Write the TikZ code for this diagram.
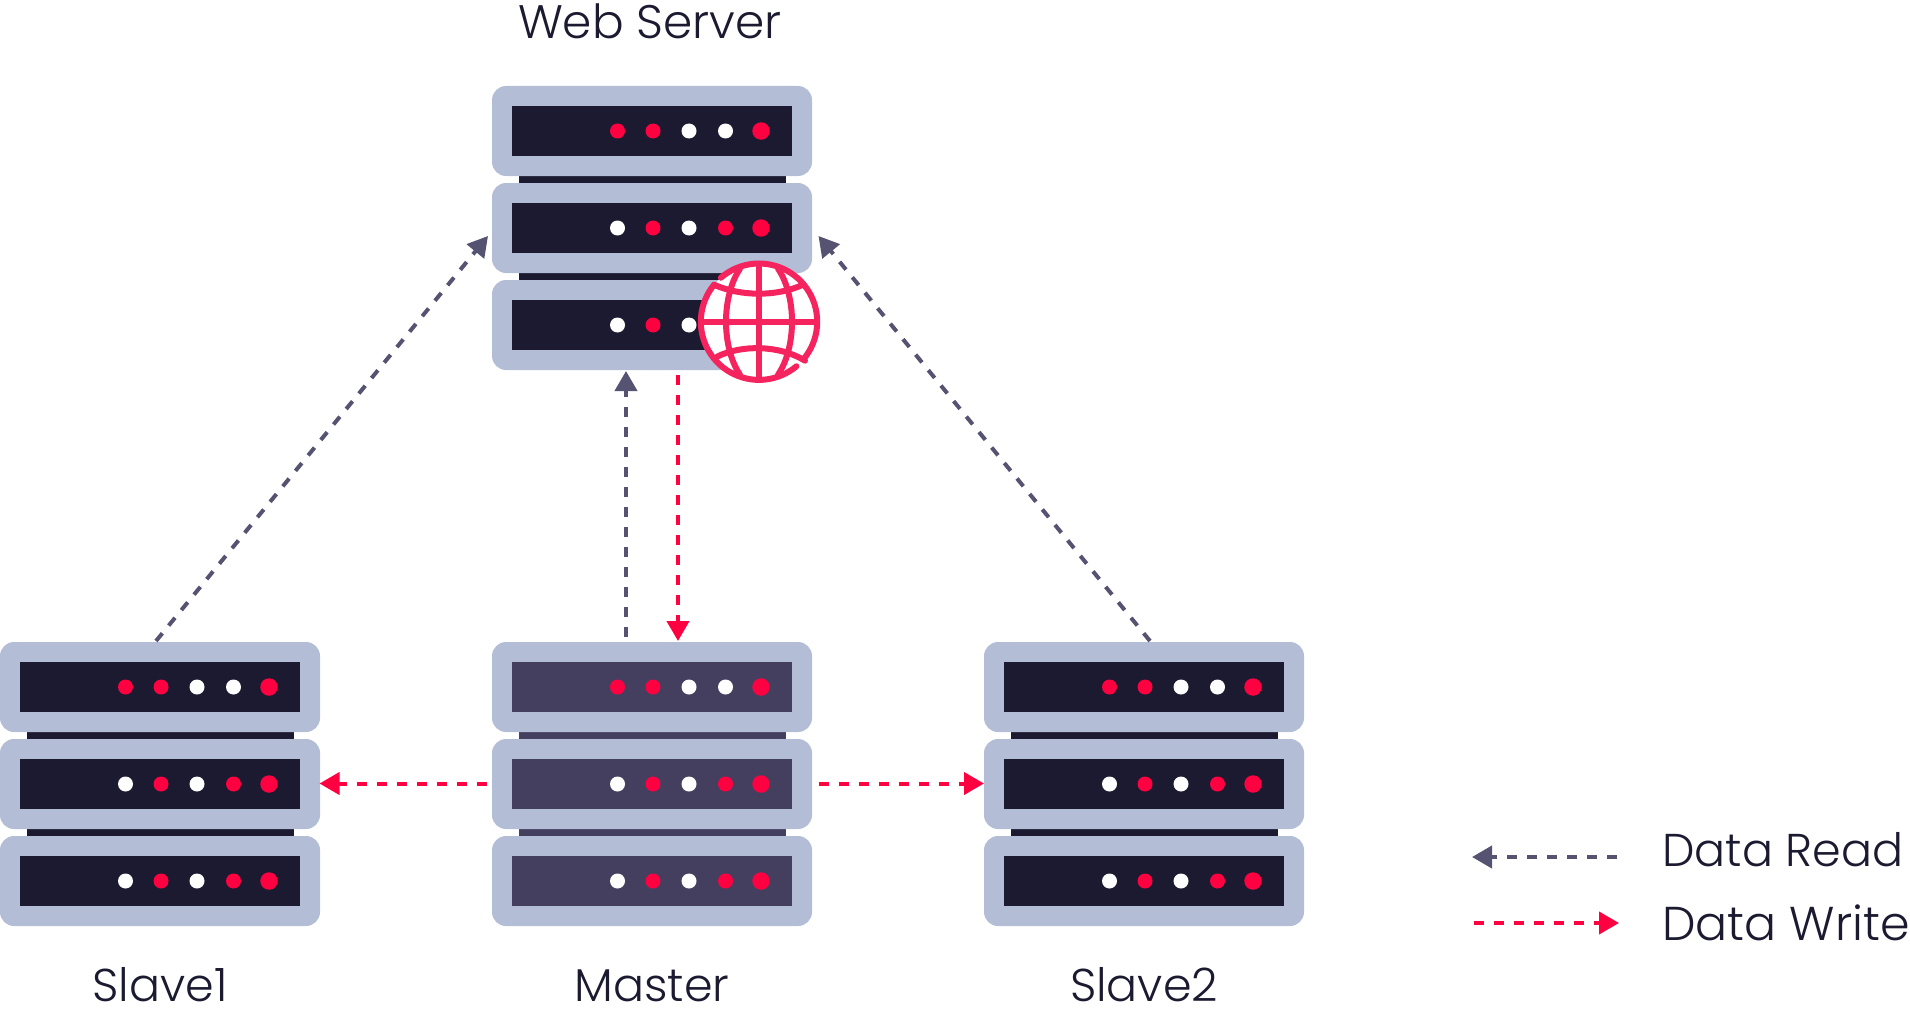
\documentclass[tikz,border=0pt]{standalone}
\usepackage{fontspec}
\setmainfont{Poppins}[UprightFont=* Light]
\usetikzlibrary{arrows.meta,calc}
\definecolor{inkdark}{HTML}{1B1A30}
\definecolor{inkmaster}{HTML}{453F5F}
\definecolor{framegrey}{HTML}{B3BED6}
\definecolor{ledred}{HTML}{FF0040}
\definecolor{readgrey}{HTML}{565372}
\definecolor{globered}{HTML}{F5245F}
\tikzset{
  x=1pt,y=-1pt,
  rowframe/.style={fill=framegrey,draw=none,rounded corners=14pt,minimum width=320pt,minimum height=90pt,inner sep=0pt,outer sep=0pt},
  rowpanel/.style={draw=none,minimum width=280pt,minimum height=50pt,inner sep=0pt,outer sep=0pt},
  rowlink/.style={draw=none,minimum width=267pt,minimum height=7pt,inner sep=0pt,outer sep=0pt},
  led/.style={circle,draw=none,minimum size=15pt,inner sep=0pt,outer sep=0pt},
  bigled/.style={led,minimum size=17.5pt},
  readflow/.style={readgrey,line width=4pt,dash pattern=on 10pt off 10pt,-{Triangle[length=20pt,width=22pt]}},
  writeflow/.style={ledred,line width=4pt,dash pattern=on 10pt off 10pt,-{Triangle[length=20pt,width=22pt]}},
  caption/.style={font=\fontsize{46}{46}\selectfont,text=inkdark,inner sep=0pt,anchor=base},
  legendtext/.style={caption,anchor=base west},
  globeline/.style={globered,line width=6pt,line cap=round,line join=round}
}
% One rack row: frame, panel, and the first three status lights
\newcommand{\rackrow}[7]{% name, top y, centre x, panel colour, led1, led2, led3
  \node[rowframe] (#1) at (#3,#2+45) {};
  \node[rowpanel,fill=#4] (#1-panel) at (#3,#2+45) {};
  \node[led,fill=#5] (#1-a) at (#3-34.5,#2+45) {};
  \node[led,fill=#6] (#1-b) at (#3+1,#2+45) {};
  \node[led,fill=#7] (#1-c) at (#3+37,#2+45) {};
}
\newcommand{\racklights}[4]{% name, centre x, top y, led4 colour
  \node[led,fill=#4] (#1-d) at (#2+73.5,#3+45) {};
  \node[bigled,fill=ledred] (#1-e) at (#2+109,#3+45) {};
}
% Three-row rack with its links
\newcommand{\rack}[4]{% name, centre x, top y, panel colour
  \node[rowlink,fill=#4] (#1-link1) at (#2+.5,#3+93.5) {};
  \node[rowlink,fill=#4] (#1-link2) at (#2+.5,#3+190.5) {};
  \rackrow{#1-r1}{#3}{#2}{#4}{ledred}{ledred}{white}
  \racklights{#1-r1}{#2}{#3}{white}
  \rackrow{#1-r2}{#3+97}{#2}{#4}{white}{ledred}{white}
  \racklights{#1-r2}{#2}{#3+97}{ledred}
  \rackrow{#1-r3}{#3+194}{#2}{#4}{white}{ledred}{white}
  \racklights{#1-r3}{#2}{#3+194}{ledred}
}
\begin{document}
\begin{tikzpicture}
\useasboundingbox (0,0) rectangle (1910,1014);

\rack{web}{652}{86}{inkdark}
\rack{master}{652}{642}{inkmaster}
\rack{slaveone}{160}{642}{inkdark}
\rack{slavetwo}{1144}{642}{inkdark}

% The globe badge replaces the right end of the web server's lowest row
\fill[white] (759,280) rectangle (814,371);
\node[circle,fill=white,draw=none,minimum size=116pt,inner sep=0pt] (globe) at (759,321.7) {};
\begin{scope}[shift={(759,321.7)}]
  % outer ring, in two strokes that leave small gaps
  \draw[globeline] plot[smooth,samples=40,domain=-131:40,variable=\a] ({58.2*cos(\a)},{58.2*sin(\a)});
  \draw[globeline] plot[smooth,samples=40,domain=-140.6:-310,variable=\a] ({58.2*cos(\a)},{58.2*sin(\a)});
  % parallels
  \draw[globeline] (-45,-37) .. controls (-18,-25) and (18,-25) .. (44,-37);
  \draw[globeline] (-42,35) .. controls (-18,23) and (20,23) .. (46,39);
  \draw[globeline] (-58,0) -- (58,0);
  % meridians
  \draw[globeline] (0,-58) -- (0,58);
  \draw[globeline] (-19,-53) .. controls (-28,-40) and (-33,-20) .. (-33,0) .. controls (-33,20) and (-28,40) .. (-19,53);
  \draw[globeline] (19,-53) .. controls (28,-40) and (33,-20) .. (33,0) .. controls (33,20) and (28,40) .. (19,53);
\end{scope}

% Data flow connectors
\coordinate (webReadIn) at ($(web-r3.south)+(-26,1)$);
\coordinate (masterReadOut) at ($(master-r1.north)+(-26,-5)$);
\coordinate (webWriteOut) at ($(web-r3.south)+(26,5)$);
\coordinate (masterWriteIn) at ($(master-r1.north)+(26,-1)$);
\coordinate (slaveoneOut) at ($(slaveone-r1.north)+(-4,-1)$);
\coordinate (webLeftIn) at (488,236);
\coordinate (slavetwoOut) at ($(slavetwo-r1.north)+(6,-1)$);
\coordinate (webRightIn) at (818.5,236);
\coordinate (masterLeftOut) at (487,783.5);
\coordinate (slaveoneIn) at (319.5,783.5);
\coordinate (masterRightOut) at (819,783.5);
\coordinate (slavetwoIn) at (984,783.5);
\draw[readflow] (masterReadOut) -- (webReadIn);
\draw[writeflow] (webWriteOut) -- (masterWriteIn);
\draw[readflow] (slaveoneOut) -- (webLeftIn);
\draw[readflow] (slavetwoOut) -- (webRightIn);
\draw[writeflow] (masterLeftOut) -- (slaveoneIn);
\draw[writeflow] (masterRightOut) -- (slavetwoIn);

% Captions
\node[caption,font=\fontsize{47}{47}\selectfont] (webLabel) at (650,39) {Web Server};
\node[caption] (slaveoneLabel) at (160,1001) {Slave1};
\node[caption] (masterLabel) at (652,1001) {Master};
\node[caption] (slavetwoLabel) at (1144,1001) {Slave2};

% Legend
\coordinate (readStart) at (1617,857);
\coordinate (readEnd) at (1472,857);
\coordinate (writeStart) at (1474,923);
\coordinate (writeEnd) at (1619,923);
\draw[readflow] (readStart) -- (readEnd);
\draw[writeflow] (writeStart) -- (writeEnd);
\node[legendtext] (readLabel) at (1662,866) {Data Read};
\node[legendtext,font=\fontsize{47.5}{47.5}\selectfont] (writeLabel) at (1662,940) {Data Write};
\end{tikzpicture}
\end{document}
